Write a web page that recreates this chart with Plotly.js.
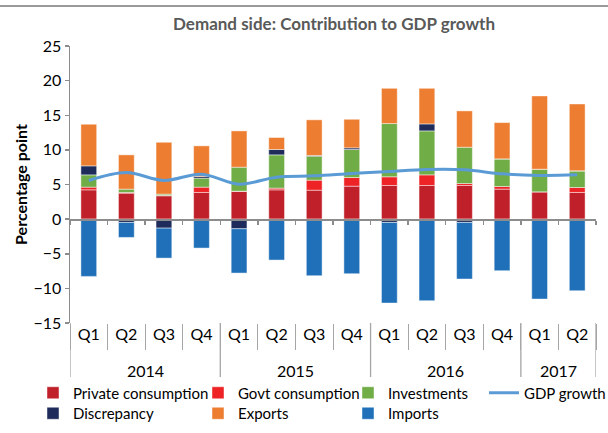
<!DOCTYPE html>
<html><head><meta charset="utf-8">
<script src="https://cdn.plot.ly/plotly-3.0.1.min.js"></script>
<style>html,body{margin:0;padding:0;background:#fff}#chart{width:608px;height:433px}</style>
</head><body><div id="chart"></div>
<script>
// ---- data ----
const years = ['2014','2014','2014','2014','2015','2015','2015','2015','2016','2016','2016','2016','2017','2017'];
const quarters = ['Q1','Q2','Q3','Q4','Q1','Q2','Q3','Q4','Q1','Q2','Q3','Q4','Q1','Q2'];
const privateConsumption = [4.23, 3.75, 3.37, 3.85, 3.99, 4.23, 4.18, 4.76, 4.86, 4.86, 4.86, 4.33, 3.94, 3.85];
const govtConsumption    = [0.39, 0.10, 0.05, 0.77, 0.05, 0.24, 1.45, 1.25, 1.25, 1.53, 0.28, 0.38, 0.00, 0.72];
const investments        = [1.77, 0.48, 0.19, 1.29, 3.46, 4.81, 3.46, 4.04, 7.69, 6.35, 5.24, 3.99, 3.27, 2.40];
const discrepancy        = [1.30, -0.48, -1.30, 0.24, -1.39, 0.77, 0.10, 0.24, -0.48, 1.01, -0.48, 0.00, 0.00, 0.00];
const exportsC           = [6.01, 4.95, 7.49, 4.43, 5.24, 1.73, 5.15, 4.13, 5.09, 5.14, 5.25, 5.24, 10.58, 9.66];
const importsC           = [-8.27, -2.16, -4.33, -4.18, -6.40, -5.91, -8.17, -7.88, -11.64, -11.78, -8.17, -7.45, -11.54, -10.34];
const gdpGrowth          = [5.58, 6.73, 5.58, 6.49, 5.05, 6.06, 6.25, 6.59, 6.88, 7.16, 7.12, 6.54, 6.30, 6.39];
const seriesNames = ['Private consumption','Govt consumption','Investments','Discrepancy','Exports','Imports','GDP growth'];
const yRange = [-15, 25];

// ---- layout helpers ----
const W = 608, H = 433;
const M = {l: 70, r: 12, t: 46, b: 110, autoexpand: false};
const pw = W - M.l - M.r, ph = H - M.t - M.b;
const pxX = px => (px - M.l) / pw;
const pxY = py => (H - M.b - py) / ph;
const FONT = 'Lato, "Open Sans", sans-serif';
const axisGrey = '#8c8c8c';
const sepGrey = '#a6a6a6';

const periods = years.map((y, i) => y + ' ' + quarters[i]);
const n = periods.length;

// year groups (for the second label row and its dividers)
const groups = [];
years.forEach((y, i) => {
  if (!groups.length || groups[groups.length - 1].year !== y) groups.push({year: y, first: i, last: i});
  else groups[groups.length - 1].last = i;
});

const barSpecs = [
  {y: privateConsumption, color: '#C0202A', name: seriesNames[0], legend: 'legend'},
  {y: govtConsumption,    color: '#EE2326', name: seriesNames[1], legend: 'legend2'},
  {y: investments,        color: '#70AD47', name: seriesNames[2], legend: 'legend3'},
  {y: discrepancy,        color: '#1F2B5B', name: seriesNames[3], legend: 'legend5'},
  {y: exportsC,           color: '#ED7D31', name: seriesNames[4], legend: 'legend6'},
  {y: importsC,           color: '#1F70B9', name: seriesNames[5], legend: 'legend7'}
];
const traces = barSpecs.map(s => ({
  type: 'bar', x: periods, y: s.y, name: s.name, legend: s.legend, showlegend: true,
  marker: {color: s.color, line: {color: 'rgba(255,255,255,0.45)', width: 1}},
  hoverinfo: 'skip'
}));
traces.push({
  type: 'scatter', mode: 'lines', name: seriesNames[6], legend: 'legend4', showlegend: true,
  x: periods, y: gdpGrowth, xaxis: 'x2', yaxis: 'y',
  line: {color: '#5B9BD5', width: 3, shape: 'spline', smoothing: 1},
  hoverinfo: 'skip'
});

function leg(textX, rowY) {
  return {x: pxX(textX - 40), y: pxY(rowY), xref: 'paper', yref: 'paper',
          xanchor: 'left', yanchor: 'middle',
          orientation: 'v', font: {size: 15, color: '#000', family: FONT},
          bgcolor: 'rgba(0,0,0,0)', borderwidth: 0};
}
const row1 = 393, row2 = 413.5;
const col1 = 73, col2 = 238, col3 = 388, col4 = 524;

const yearAnnotations = groups.map(g => ({
  text: g.year, xref: 'x', x: (g.first + g.last) / 2, yref: 'paper', y: pxY(370),
  xanchor: 'center', yanchor: 'middle', showarrow: false,
  font: {size: 16, color: '#000', family: FONT}
}));
const dividerPositions = groups.map(g => g.first - 0.5).concat([groups[groups.length - 1].last + 0.5]);
const dividerShapes = dividerPositions.map(xv => ({
  type: 'line', xref: 'x', x0: xv, x1: xv, yref: 'paper', y0: pxY(323), y1: pxY(377),
  line: {color: sepGrey, width: 1.3}
}));

const layout = {
  width: W, height: H,
  margin: M,
  showlegend: true,
  paper_bgcolor: '#fff', plot_bgcolor: '#fff',
  font: {family: FONT, color: '#000'},
  barmode: 'relative', bargap: 0.58,
  title: {text: 'Demand side: Contribution to GDP growth', x: 334 / W, xref: 'container', xanchor: 'center',
          y: 1 - 24 / H, yref: 'container', yanchor: 'middle',
          font: {size: 17, color: '#595959', weight: 'bold', family: FONT}},
  xaxis: {
    type: 'category', range: [-0.5, n - 0.5], showline: false, showgrid: false, zeroline: false,
    tickvals: periods, ticktext: quarters,
    ticks: 'outside', tickson: 'boundaries', ticklen: 26, tickcolor: sepGrey, tickwidth: 1,
    tickfont: {size: 16, color: '#000', family: FONT}
  },
  xaxis2: {
    type: 'category', overlaying: 'x', anchor: 'free', position: -yRange[0] / (yRange[1] - yRange[0]),
    range: [-0.5, n - 0.5], showline: true, linecolor: axisGrey, linewidth: 1.5,
    ticks: 'outside', tickson: 'boundaries', ticklen: 4, tickcolor: axisGrey, tickwidth: 1.5,
    showticklabels: false, showgrid: false, zeroline: false, side: 'bottom'
  },
  yaxis: {
    range: yRange, tick0: 0, dtick: 5, showline: true, linecolor: axisGrey, linewidth: 1.5,
    ticks: 'outside', ticklen: 4, tickcolor: axisGrey, tickwidth: 1.5,
    showgrid: false, zeroline: false,
    tickfont: {size: 16, color: '#000', family: FONT},
    title: {text: 'Percentage point', standoff: 2, font: {size: 16, weight: 'bold', color: '#000', family: FONT}}
  },
  legend: leg(col1, row1),
  legend2: leg(col2, row1),
  legend3: leg(col3, row1),
  legend4: leg(col4, row1),
  legend5: leg(col1, row2),
  legend6: leg(col2, row2),
  legend7: leg(col3, row2),
  annotations: yearAnnotations,
  shapes: [{type: 'line', xref: 'paper', yref: 'paper', x0: pxX(0), x1: pxX(W), y0: pxY(6), y1: pxY(6),
            line: {color: '#9a9a9a', width: 2}}].concat(dividerShapes)
};
Plotly.newPlot('chart', traces, layout, {displayModeBar: false, staticPlot: true});
</script></body></html>
